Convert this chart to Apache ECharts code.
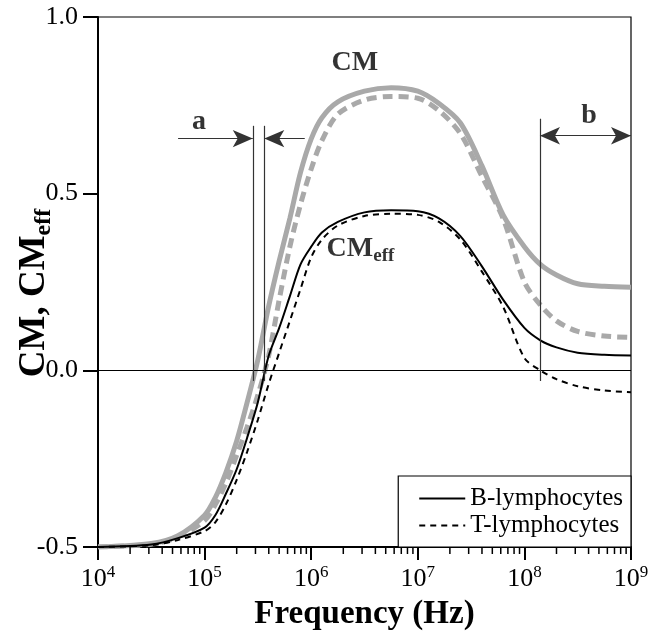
<!DOCTYPE html>
<html><head><meta charset="utf-8">
<script src="https://cdn.jsdelivr.net/npm/echarts@6/dist/echarts.min.js"></script>
<style>html,body{margin:0;padding:0;background:#fff}#c{width:652px;height:641px}</style>
</head><body><div id="c"></div>
<script>
// ---- data ----
const freqs = [1e4, 3.16e4, 5.62e4, 1e5, 1.26e5, 1.58e5, 2e5, 2.51e5, 3.16e5, 3.98e5, 5.01e5, 6.31e5, 7.94e5,
  1e6, 1.26e6, 1.78e6, 3.16e6, 5.62e6, 1e7, 1.58e7, 2.51e7, 3.98e7, 6.31e7, 1e8, 1.41e8, 2e8, 3.16e8, 5.62e8, 1e9];
const cmB  = [-0.50, -0.49, -0.468, -0.41, -0.36, -0.29, -0.20, -0.09, 0.03, 0.18, 0.31, 0.43, 0.56,
  0.655, 0.715, 0.76, 0.79, 0.80, 0.79, 0.755, 0.70, 0.58, 0.44, 0.35, 0.30, 0.27, 0.245, 0.238, 0.235];
const cmT  = [-0.50, -0.492, -0.472, -0.425, -0.38, -0.32, -0.24, -0.16, -0.07, 0.04, 0.20, 0.35, 0.47,
  0.57, 0.65, 0.725, 0.765, 0.775, 0.77, 0.735, 0.67, 0.55, 0.43, 0.25, 0.185, 0.14, 0.11, 0.097, 0.093];
const ceB  = [-0.50, -0.493, -0.475, -0.445, -0.41, -0.35, -0.28, -0.19, -0.09, 0.04, 0.12, 0.21, 0.30,
  0.35, 0.39, 0.42, 0.447, 0.453, 0.45, 0.43, 0.38, 0.295, 0.20, 0.12, 0.085, 0.065, 0.05, 0.044, 0.042];
const ceT  = [-0.50, -0.495, -0.48, -0.455, -0.43, -0.38, -0.31, -0.23, -0.14, -0.04, 0.05, 0.14, 0.23,
  0.32, 0.37, 0.41, 0.437, 0.443, 0.44, 0.42, 0.37, 0.28, 0.18, 0.035, 0.0, -0.025, -0.045, -0.057, -0.062];
const seriesNames = ['B-lymphocytes', 'T-lymphocytes'];
const yTicks = [-0.5, 0.0, 0.5, 1.0];
const xDecades = [1e4, 1e5, 1e6, 1e7, 1e8, 1e9];
const minorMult = [2, 3, 4, 5, 6, 7, 8, 9];
// annotation markers (frequency, CM value)
const aLineFreqs = [2.83e5, 3.63e5];
const aLineRange = [0.692, -0.03];
const aArrowLeft = [5.64e4, 2.83e5, 0.656];
const aArrowRight = [8.7e5, 3.63e5, 0.656];
const bLine = [1.4e8, 0.712, -0.03];
const bArrow = [1.4e8, 1e9, 0.664];

const FONT = 'Liberation Serif';
const pair = ys => freqs.map((f, i) => [f, ys[i]]);
const minorTicks = [];
xDecades.slice(0, -1).forEach(d => minorMult.forEach(m => minorTicks.push([d * m, yTicks[0]])));

const chart = echarts.init(document.getElementById('c'), null, {renderer: 'canvas'});
const thin = {color: '#000', width: 1.2, type: 'solid'};
const arrowEnd = {symbol: 'arrow', symbolSize: [13, 20]};
chart.setOption({
  animation: false,
  backgroundColor: '#fff',
  grid: {left: 98, right: 21, top: 17, bottom: 94, show: true, borderColor: '#000', borderWidth: 1.2,
         containLabel: false, outerBoundsMode: 'none'},
  legend: {
    data: seriesNames, orient: 'vertical', right: 21, bottom: 94,
    backgroundColor: '#fff', borderColor: '#000', borderWidth: 1.2,
    padding: [9, 8, 8, 20], itemGap: 0, itemWidth: 46, itemHeight: 14,
    itemStyle: {opacity: 0},
    textStyle: {fontFamily: FONT, fontSize: 25, color: '#000', lineHeight: 27}
  },
  xAxis: {
    type: 'log', logBase: 10, min: xDecades[0], max: xDecades[xDecades.length - 1], splitNumber: 5,
    axisLine: {onZero: false, lineStyle: {color: '#000', width: 2}},
    axisTick: {inside: false, length: 13, lineStyle: {color: '#000', width: 2}},
    splitLine: {show: false},
    axisLabel: {
      margin: 17, color: '#000',
      formatter: v => '{n|10}{s|' + Math.round(Math.log10(v)) + '}',
      rich: {n: {fontFamily: FONT, fontSize: 26, lineHeight: 30, color: '#000'},
             s: {fontFamily: FONT, fontSize: 17, lineHeight: 17, verticalAlign: 'top', color: '#000'}}
    },
    name: 'Frequency (Hz)', nameLocation: 'middle', nameGap: 51, nameMoveOverlap: false,
    nameTextStyle: {fontFamily: FONT, fontSize: 33, fontWeight: 'bold', color: '#000'}
  },
  yAxis: {
    type: 'value', min: yTicks[0], max: yTicks[yTicks.length - 1], interval: 0.5,
    axisLine: {show: true, onZero: false, lineStyle: {color: '#000', width: 2}},
    axisTick: {show: true, inside: false, length: 15, lineStyle: {color: '#000', width: 2}},
    splitLine: {show: false},
    axisLabel: {margin: 20, color: '#000', fontFamily: FONT, fontSize: 26, formatter: v => v.toFixed(1)},
    name: '{m|CM, CM}{s|eff}', nameLocation: 'middle', nameGap: 42, nameRotate: 90, nameMoveOverlap: false,
    nameTextStyle: {padding: [0, 22, 0, 0], rich: {
      m: {fontFamily: FONT, fontSize: 37, fontWeight: 'bold', lineHeight: 44, color: '#000'},
      s: {fontFamily: FONT, fontSize: 24, fontWeight: 'bold', lineHeight: 22, verticalAlign: 'bottom', color: '#000'}
    }}
  },
  series: [
    {name: 'CM B', type: 'line', data: pair(cmB), showSymbol: false, symbol: 'none', smooth: 0.3,
     lineStyle: {color: '#a9a9a9', width: 5}, z: 2,
     markLine: {silent: true, symbol: 'none', label: {show: false}, lineStyle: thin,
       data: [{yAxis: 0}]}},
    {name: 'CM T', type: 'line', data: pair(cmT), showSymbol: false, symbol: 'none', smooth: 0.3,
     lineStyle: {color: '#a9a9a9', width: 5, type: [10, 6]}, z: 2},
    {name: seriesNames[0], type: 'line', data: pair(ceB), showSymbol: false, symbol: 'none', smooth: 0.3,
     itemStyle: {color: '#000'}, lineStyle: {color: '#000', width: 2}, z: 3,
     markLine: {silent: true, label: {show: false}, symbol: 'none',
       lineStyle: {color: '#333', width: 1.2, type: 'solid'},
       data: [
         [{coord: [aLineFreqs[0], aLineRange[0]]}, {coord: [aLineFreqs[0], aLineRange[1]]}],
         [{coord: [aLineFreqs[1], aLineRange[0]]}, {coord: [aLineFreqs[1], aLineRange[1]]}],
         [{coord: [bLine[0], bLine[1]]}, {coord: [bLine[0], bLine[2]]}],
         [{coord: [aArrowLeft[0], aArrowLeft[2]], symbol: 'none'}, Object.assign({coord: [aArrowLeft[1], aArrowLeft[2]]}, arrowEnd)],
         [{coord: [aArrowRight[0], aArrowRight[2]], symbol: 'none'}, Object.assign({coord: [aArrowRight[1], aArrowRight[2]]}, arrowEnd)],
         [Object.assign({coord: [bArrow[0], bArrow[2]]}, arrowEnd), Object.assign({coord: [bArrow[1], bArrow[2]]}, arrowEnd)]
       ]}},
    {name: seriesNames[1], type: 'line', data: pair(ceT), showSymbol: false, symbol: 'none', smooth: 0.3,
     itemStyle: {color: '#000'}, lineStyle: {color: '#000', width: 2, type: [6, 5]}, z: 3},
    {name: 'minor', type: 'custom', silent: true, clip: false, z: 5, data: minorTicks,
     encode: {x: 0, y: 1},
     renderItem: (params, api) => {
       const p = api.coord([api.value(0), api.value(1)]);
       return {type: 'line', shape: {x1: p[0], y1: p[1], x2: p[0], y2: p[1] + 7},
               style: {stroke: '#000', lineWidth: 1.5}};
     }},
    {name: 'labels', type: 'scatter', silent: true, symbolSize: 0, z: 6,
     label: {show: true, position: 'inside', color: '#000',
       rich: {b: {fontFamily: FONT, fontSize: 28, fontWeight: 'bold', lineHeight: 34, color: '#000'},
              s: {fontFamily: FONT, fontSize: 19, fontWeight: 'bold', lineHeight: 19, verticalAlign: 'bottom', color: '#000'}}},
     data: [
       {value: [2.57e6, 0.87], label: {formatter: '{b|CM}'}},
       {value: [2.9e6, 0.345], label: {formatter: '{b|CM}{s|eff}'}},
       {value: [8.87e4, 0.703], label: {formatter: '{b|a}'}},
       {value: [4.04e8, 0.72], label: {formatter: '{b|b}'}}
     ]}
  ]
});
</script></body></html>
